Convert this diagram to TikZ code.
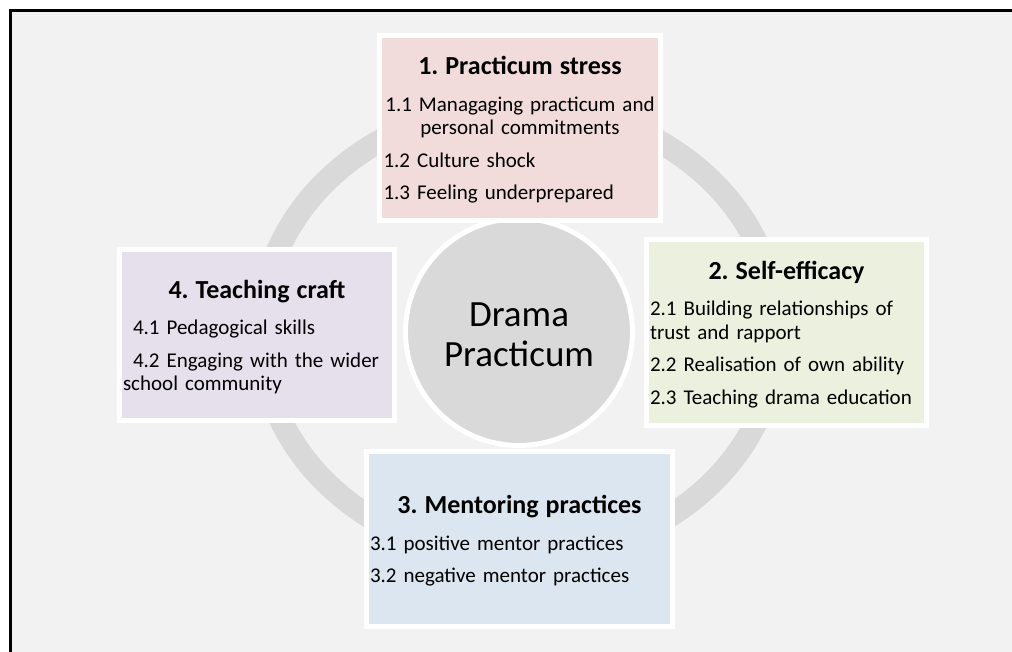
\documentclass[tikz,border=0pt]{standalone}
\usepackage{fontspec}
\setmainfont{Carlito}
\usepackage{xcolor}
\usepackage{tikz}
\definecolor{pageGrey}{HTML}{F2F2F2}
\definecolor{ringGrey}{HTML}{D9D9D9}
\definecolor{stressPink}{HTML}{F2DCDB}
\definecolor{efficacyGreen}{HTML}{EBF1DE}
\definecolor{mentorBlue}{HTML}{DCE6F1}
\definecolor{craftLilac}{HTML}{E5E0EC}
\newcommand{\bodyFont}{\frenchspacing\fontsize{15.75}{17.6}\selectfont}
\newcommand{\themeTitle}[1]{{\centering\fontsize{19.5}{22}\selectfont\bfseries #1\par}\vspace{3pt}}
\tikzset{
  themeBox/.style={
    rectangle,
    draw=white,
    line width=3.75pt,
    inner sep=0pt
  },
  themeText/.style={
    inner sep=0pt,
    align=left,
    font=\bodyFont,
    execute at begin node={\setlength{\parskip}{6.75pt}}
  },
  hubCircle/.style={
    circle,
    draw=white,
    line width=3.75pt,
    fill=ringGrey,
    inner sep=0pt,
    minimum size=170.25pt
  },
  hubText/.style={
    align=center,
    inner sep=0pt,
    font=\fontsize{27.75}{30}\selectfont
  },
  cycleRing/.style={
    draw=ringGrey,
    line width=17.25pt
  }
}

\begin{document}
\begin{tikzpicture}[x=0.75pt,y=-0.75pt]
        \useasboundingbox (0,0) rectangle (1012,652);
        \fill[white] (0,0) rectangle (1012,652);
        \fill[pageGrey] (10.5,11) rectangle (1012,652);
        \draw[line width=2.25pt] (10.5,652) -- (10.5,11) -- (1012,11);

        \coordinate (hubCentre) at (519,332);
        \draw[cycleRing] (hubCentre) ellipse [x radius=258.5, y radius=226.5];

        \node[hubCircle] (hub) at (hubCentre) {};
        \node[hubText] (hubLabel) at ([yshift=-2.25pt]hub.center) {Drama\\Practicum};

        \node[themeBox, fill=stressPink, minimum width=210.75pt, minimum height=138.75pt] (stress) at (520,128) {};
        \node[themeText, text width=204.75pt] (stressText) at ([yshift=-1.5pt]stress.center) {%
          \themeTitle{1. Practicum stress}
          {\centering 1.1 Managaging practicum and\\personal commitments\par}
          1.2 Culture shock\par
          1.3 Feeling underprepared};

        \node[themeBox, fill=efficacyGreen, minimum width=210pt, minimum height=139.5pt] (efficacy) at (786.5,332.5) {};
        \node[themeText, text width=204.75pt] (efficacyText) at ([yshift=-1.5pt]efficacy.center) {%
          \themeTitle{2. Self-efficacy}
          2.1 Building relationships of\\trust and rapport\par
          2.2 Realisation of own ability\par
          2.3 Teaching drama education};

        \node[themeBox, fill=mentorBlue, minimum width=229.5pt, minimum height=131.25pt] (mentoring) at (519.5,539) {};
        \node[themeText, text width=224.25pt] (mentoringText) at ([yshift=-1.5pt]mentoring.center) {%
          \themeTitle{3. Mentoring practices}
          3.1 positive mentor practices\par
          3.2 negative mentor practices};

        \node[themeBox, fill=craftLilac, minimum width=206.25pt, minimum height=128.25pt] (craft) at (257,335) {};
        \node[themeText, text width=201pt] (craftText) at ([yshift=-1.5pt]craft.center) {%
          \themeTitle{4. Teaching craft}
          \hspace*{7.5pt}4.1 Pedagogical skills\par
          \hspace*{7.5pt}4.2 Engaging with the wider\\school community};
    \end{tikzpicture}
\end{document}
